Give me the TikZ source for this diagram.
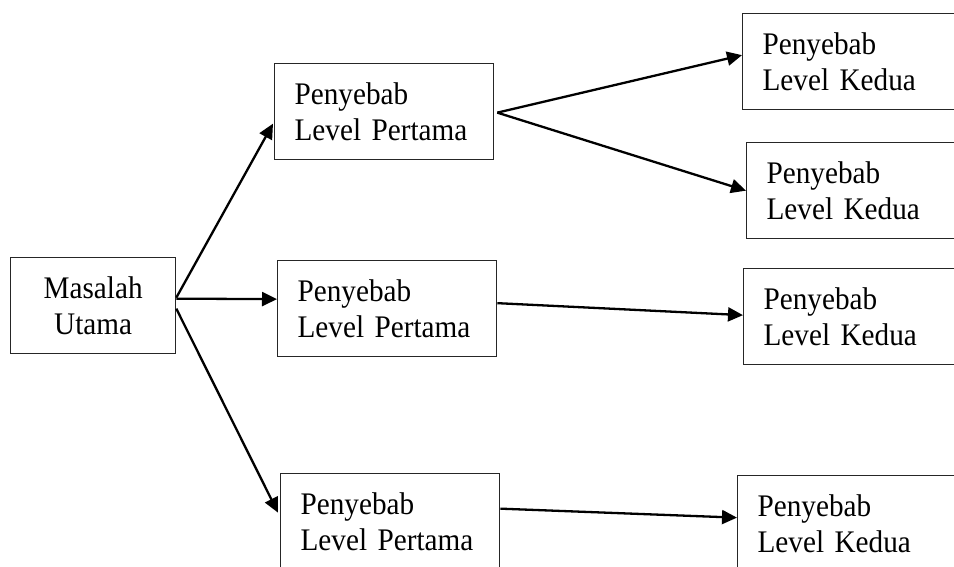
\documentclass[tikz,border=0pt]{standalone}
\usepackage{fontspec}
\setmainfont[FakeStretch=0.93,WordSpace=0.7]{Liberation Serif}
\usetikzlibrary{arrows.meta}
\begin{document}
\begin{tikzpicture}[x=1pt,y=-1pt,
  font=\fontsize{31.4}{35.5}\selectfont,
  box/.style={draw=black!85, line width=1.3pt, anchor=north west,
    minimum height=96pt, align=left, inner xsep=20pt, inner ysep=0pt},
  mainbox/.style={draw=black!85, line width=1.3pt, anchor=north west,
    minimum width=165pt, minimum height=96pt, align=center, inner sep=0pt},
  link/.style={line width=2.3pt, -{Triangle[length=15pt,width=14pt]}}]
  \useasboundingbox (0,0) rectangle (954,567);
  \clip (0,0) rectangle (954,567);

  % root problem
  \node[mainbox] (m) at (10,257) {Masalah\\Utama};

  % first-level causes
  \node[box, text width=179pt] (p1) at (274,63)  {Penyebab\\Level Pertama};
  \node[box, text width=179pt] (p2) at (277,260) {Penyebab\\Level Pertama};
  \node[box, text width=179pt] (p3) at (280,473) {Penyebab\\Level Pertama};

  % second-level causes (running past the right edge)
  \node[box, text width=200pt] (k1) at (742,13)  {Penyebab\\Level Kedua};
  \node[box, text width=200pt] (k2) at (746,142) {Penyebab\\Level Kedua};
  \node[box, text width=200pt] (k3) at (743,268) {Penyebab\\Level Kedua};
  \node[box, text width=200pt] (k4) at (737,475) {Penyebab\\Level Kedua};

  % connectors
  \draw[link] ([yshift=8pt]m.east)  -- ([xshift=-1pt,yshift=-12pt]p1.west);
  \draw[link] ([yshift=7pt]m.east)  -- ([yshift=9.5pt]p2.west);
  \draw[link] ([yshift=-3pt]m.east) -- ([xshift=-2pt,yshift=9pt]p3.west);

  \draw[link] ([xshift=3pt,yshift=-1pt]p1.east) -- ([yshift=6.5pt]k1.west);
  \draw[link] ([xshift=3pt,yshift=-1pt]p1.east) -- ([yshift=0pt]k2.west);
  \draw[link] ([yshift=5.5pt]p2.east) -- ([yshift=1.5pt]k3.west);
  \draw[link] ([yshift=13pt]p3.east)  -- ([yshift=6pt]k4.west);
\end{tikzpicture}
\end{document}
